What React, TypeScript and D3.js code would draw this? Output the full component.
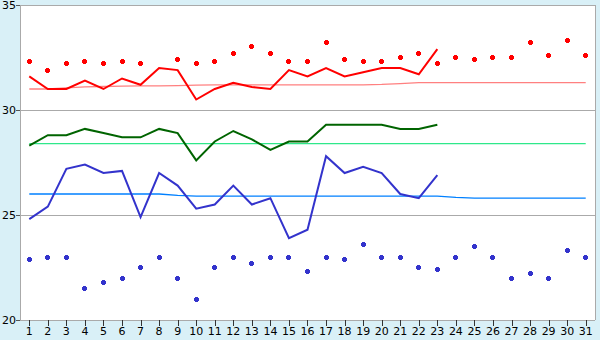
import React from "react";
import * as d3 from "d3";

const days = d3.range(1, 32);
const maxTemp = [31.6, 31.0, 31.0, 31.4, 31.0, 31.5, 31.2, 32.0, 31.9, 30.5, 31.0, 31.3, 31.1, 31.0, 31.9, 31.6, 32.0, 31.6, 31.8, 32.0, 32.0, 31.7, 32.9];
const meanTemp = [28.3, 28.8, 28.8, 29.1, 28.9, 28.7, 28.7, 29.1, 28.9, 27.6, 28.5, 29.0, 28.6, 28.1, 28.5, 28.5, 29.3, 29.3, 29.3, 29.3, 29.1, 29.1, 29.3];
const minTemp = [24.8, 25.4, 27.2, 27.4, 27.0, 27.1, 24.9, 27.0, 26.4, 25.3, 25.5, 26.4, 25.5, 25.8, 23.9, 24.3, 27.8, 27.0, 27.3, 27.0, 26.0, 25.8, 26.9];
const maxMarks: (number | null)[] = [32.3, 31.9, 32.2, 32.3, 32.2, 32.3, 32.2, null, 32.4, 32.2, 32.3, 32.7, 33.0, 32.7, 32.3, 32.3, 33.2, 32.4, 32.3, 32.3, 32.5, 32.7, 32.2, 32.5, 32.4, 32.5, 32.5, 33.2, 32.6, 33.3, 32.6];
const minMarks = [22.9, 23.0, 23.0, 21.5, 21.8, 22.0, 22.5, 23.0, 22.0, 21.0, 22.5, 23.0, 22.7, 23.0, 23.0, 22.3, 23.0, 22.9, 23.6, 23.0, 23.0, 22.5, 22.4, 23.0, 23.5, 23.0, 22.0, 22.2, 22.0, 23.3, 23.0];
const normalMax = [31.0, 31.0, 31.05, 31.1, 31.12, 31.14, 31.15, 31.15, 31.16, 31.18, 31.2, 31.2, 31.2, 31.2, 31.2, 31.2, 31.2, 31.2, 31.2, 31.22, 31.26, 31.3, 31.3, 31.3, 31.3, 31.3, 31.3, 31.3, 31.3, 31.3, 31.3];
const normalMean = days.map(() => 28.4);
const normalMin = [26.0, 26.0, 26.0, 26.0, 26.0, 26.0, 26.0, 26.0, 25.93, 25.9, 25.9, 25.9, 25.9, 25.9, 25.9, 25.9, 25.9, 25.9, 25.9, 25.9, 25.9, 25.9, 25.9, 25.84, 25.8, 25.8, 25.8, 25.8, 25.8, 25.8, 25.8];
const yTicks = [20, 25, 30, 35];

const W = 600, H = 340;
const L = 20, R = 595, T = 5, B = 320;

export default function App() {
  const x = d3.scaleBand<number>().domain(days).range([L, R]);
  const cx = (d: number) => (x(d) as number) + x.bandwidth() / 2;
  const y = d3.scaleLinear().domain([20, 35]).range([B, T]);
  const line = d3
    .line<number>()
    .x((_, i) => cx(days[i]))
    .y((v) => y(v));
  const font = "DejaVu Sans, Verdana, sans-serif";
  const marker = (px: number, py: number, color: string, key: string) => {
    const mx = Math.floor(px), my = Math.floor(py);
    return (
      <path
        key={key}
        d={`M${mx - 1},${my - 2}h3v1h1v3h-1v1h-3v-1h-1v-3h1z`}
        fill={color}
        shapeRendering="crispEdges"
      />
    );
  };
  return (
    <svg width={W} height={H} style={{ position: "absolute", left: 0, top: 0 }}>
      <rect x={0} y={0} width={W} height={H} fill="#d9f0f7" />
      <rect x={L} y={T} width={R - L} height={B - T} fill="#ffffff" />
      {yTicks.map((t) => (
        <g key={t} shapeRendering="crispEdges">
          <line x1={L} x2={R} y1={y(t) + 0.5} y2={y(t) + 0.5} stroke="#aaaaaa" strokeWidth={1} />
          <line x1={L - 4} x2={L} y1={y(t) + 0.5} y2={y(t) + 0.5} stroke="#555" strokeWidth={1} />
          <text x={L - 4} y={y(t) + 4} textAnchor="end" fontFamily={font} fontSize={11} fill="#000">
            {t}
          </text>
        </g>
      ))}
      <line x1={L + 0.5} x2={L + 0.5} y1={T} y2={B} stroke="#aaaaaa" shapeRendering="crispEdges" />
      <line x1={R + 0.5} x2={R + 0.5} y1={T} y2={B} stroke="#aaaaaa" shapeRendering="crispEdges" />
      {days.map((d) => (
        <g key={d}>
          <line x1={Math.round(cx(d)) + 0.5} x2={Math.round(cx(d)) + 0.5} y1={B} y2={B + 6} stroke="#333" shapeRendering="crispEdges" />
          <text x={cx(d)} y={B + 15} textAnchor="middle" fontFamily={font} fontSize={11} fill="#000">
            {d}
          </text>
        </g>
      ))}
      <path d={line(normalMax) || ""} fill="none" stroke="#ff8080" strokeWidth={1.3} />
      <path d={line(normalMean) || ""} fill="none" stroke="#2ee88a" strokeWidth={1.3} />
      <path d={line(normalMin) || ""} fill="none" stroke="#0080ff" strokeWidth={1.3} />
      <path d={line(maxTemp) || ""} fill="none" stroke="#ff0000" strokeWidth={2} />
      <path d={line(meanTemp) || ""} fill="none" stroke="#006400" strokeWidth={2} />
      <path d={line(minTemp) || ""} fill="none" stroke="#3333cc" strokeWidth={2} />
      {maxMarks.map((v, i) => (v == null ? null : marker(cx(days[i]), y(v), "#ff0000", "mx" + i)))}
      {minMarks.map((v, i) => marker(cx(days[i]), y(v), "#3333cc", "mn" + i))}
    </svg>
  );
}
